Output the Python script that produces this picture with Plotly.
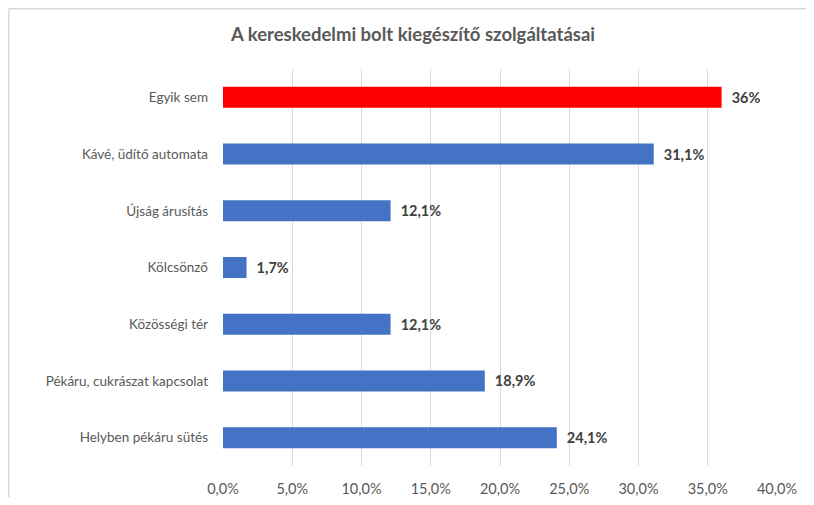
import plotly.graph_objects as go

categories = ["Egyik sem", "Kávé, üdítő automata", "Újság árusítás", "Kölcsönző",
              "Közösségi tér", "Pékáru, cukrászat kapcsolat", "Helyben pékáru sütés"]
values = [36.0, 31.1, 12.1, 1.7, 12.1, 18.9, 24.1]
labels = ["36%", "31,1%", "12,1%", "1,7%", "12,1%", "18,9%", "24,1%"]
colors = ["#FF0000"] + ["#4472C4"] * 6
tick_vals = [0, 5, 10, 15, 20, 25, 30, 35, 40]
tick_text = ["0,0%", "5,0%", "10,0%", "15,0%", "20,0%", "25,0%", "30,0%", "35,0%", "40,0%"]

FONT = "Lato, Liberation Sans, sans-serif"
OFF = 8  # page body margin
W, H = 814 - 2 * OFF, 505 - 2 * OFF
L, T = 223 - OFF, 69 - OFF
R = W - (777 - OFF)
B = H - (466 - OFF)
pw, ph = W - L - R, H - T - B

fig = go.Figure(go.Bar(
    x=values, y=categories, orientation="h",
    marker=dict(color=colors, line=dict(width=0)),
    text=["\u00a0\u00a0" + s for s in labels], textposition="outside",
    textfont=dict(family=FONT, size=14.5, color="#404040", weight="bold"),
    cliponaxis=False, hoverinfo="skip",
))

def px_x(p):
    return (p - OFF - L) / pw

def px_y(p):
    return (H - B - (p - OFF)) / ph

fig.update_layout(
    width=W, height=H,
    margin=dict(l=L, r=R, t=T, b=B, autoexpand=False),
    paper_bgcolor="white", plot_bgcolor="white",
    showlegend=False,
    bargap=0.63,
    title=dict(text="<b>A kereskedelmi bolt kiegészítő szolgáltatásai</b>",
               x=px_x(413), xanchor="center", xref="paper",
               y=1 - (35 - OFF) / H, yanchor="middle",
               font=dict(family=FONT, size=18.5, color="#595959")),
    xaxis=dict(range=[0, 40], tickvals=tick_vals, ticktext=tick_text,
               showgrid=True, gridcolor="#D9D9D9", gridwidth=1,
               zeroline=False, showline=False, ticks="", automargin=False,
               ticklabelstandoff=12,
               tickfont=dict(family=FONT, size=14.5, color="#595959")),
    yaxis=dict(autorange="reversed", showgrid=False, showline=False, ticks="",
               ticklabelstandoff=14, automargin=False,
               tickfont=dict(family=FONT, size=13.5, color="#595959")),
    shapes=[
        dict(type="line", xref="paper", yref="paper", x0=px_x(OFF + 0.75), x1=px_x(OFF + W),
             y0=px_y(OFF + 0.75), y1=px_y(OFF + 0.75), line=dict(color="#D9D9D9", width=1.5)),
        dict(type="line", xref="paper", yref="paper", x0=px_x(OFF + 0.75), x1=px_x(OFF + 0.75),
             y0=px_y(OFF + 0.75), y1=px_y(OFF + H), line=dict(color="#D9D9D9", width=1.5)),
    ],
)

fig.write_html("out.html", config={"displayModeBar": False})
